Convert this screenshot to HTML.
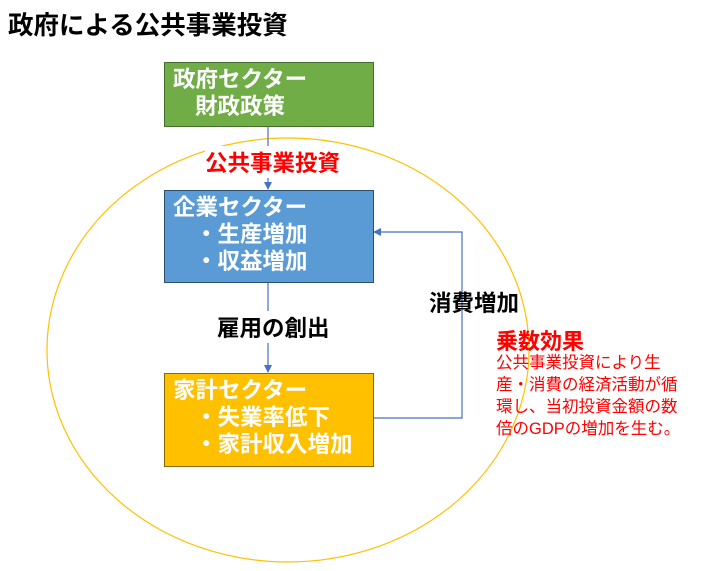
<!DOCTYPE html>
<html><head><meta charset="utf-8"><style>
body{margin:0;width:701px;height:571px;background:#fff;position:relative;overflow:hidden;font-family:"Liberation Sans","Noto Sans CJK JP",sans-serif}
.t{position:absolute;white-space:nowrap}
.box{position:absolute;box-sizing:border-box;color:#fff;font-weight:bold;font-size:22.5px;line-height:27px;padding:3px 0 0 8px}
</style></head><body>
<div class="t" style="left:8px;top:5px;font-size:25.5px;font-weight:bold;color:#000">政府による公共事業投資</div>
<svg style="position:absolute;left:0;top:0" width="701" height="571">
<defs><marker id="a" markerWidth="8" markerHeight="8" refX="7" refY="4" orient="auto" markerUnits="userSpaceOnUse"><path d="M0,0L8,4L0,8z" fill="#4472c4"/></marker></defs>
<ellipse cx="288" cy="350" rx="241" ry="212" fill="none" stroke="#ffc000" stroke-width="1.2"/>
<line x1="268" y1="126" x2="268" y2="189" stroke="#4472c4" stroke-width="1.2" marker-end="url(#a)"/>
<line x1="268" y1="282" x2="268" y2="372" stroke="#4472c4" stroke-width="1.2" marker-end="url(#a)"/>
<polyline points="373,418 462,418 462,232 374,232" fill="none" stroke="#4472c4" stroke-width="1.2" marker-end="url(#a)"/>
</svg>
<div class="box" style="left:164px;top:62px;width:210px;height:65px;background:#70ad47;border:1px solid #42702a">政府セクター<br><span style="padding-left:22px">財政政策</span></div>
<div class="box" style="left:164px;top:190px;width:210px;height:93px;background:#5b9bd5;border:1px solid #2f4f6f">企業セクター<br><span style="padding-left:22px">・生産増加</span><br><span style="padding-left:22px">・収益増加</span></div>
<div class="box" style="left:164px;top:373px;width:210px;height:94px;background:#ffc000;border:1px solid #8a6a00">家計セクター<br><span style="padding-left:22px">・失業率低下</span><br><span style="padding-left:22px">・家計収入増加</span></div>
<div class="t" style="left:205px;top:146px;font-size:22.5px;font-weight:bold;color:#ff0000;background:#fff">公共事業投資</div>
<div class="t" style="left:217px;top:311px;font-size:22.5px;font-weight:bold;color:#000;background:#fff">雇用の創出</div>
<div class="t" style="left:429px;top:286px;font-size:22.5px;font-weight:bold;color:#000">消費増加</div>
<div class="t" style="left:496px;top:324px;font-size:22px;font-weight:bold;color:#ff0000">乗数効果</div>
<div class="t" style="left:496px;top:352px;font-size:16.5px;line-height:22px;color:#ff0000">公共事業投資により生<br>産・消費の経済活動が循<br>環し、当初投資金額の数<br>倍のGDPの増加を生む。</div>
</body></html>
